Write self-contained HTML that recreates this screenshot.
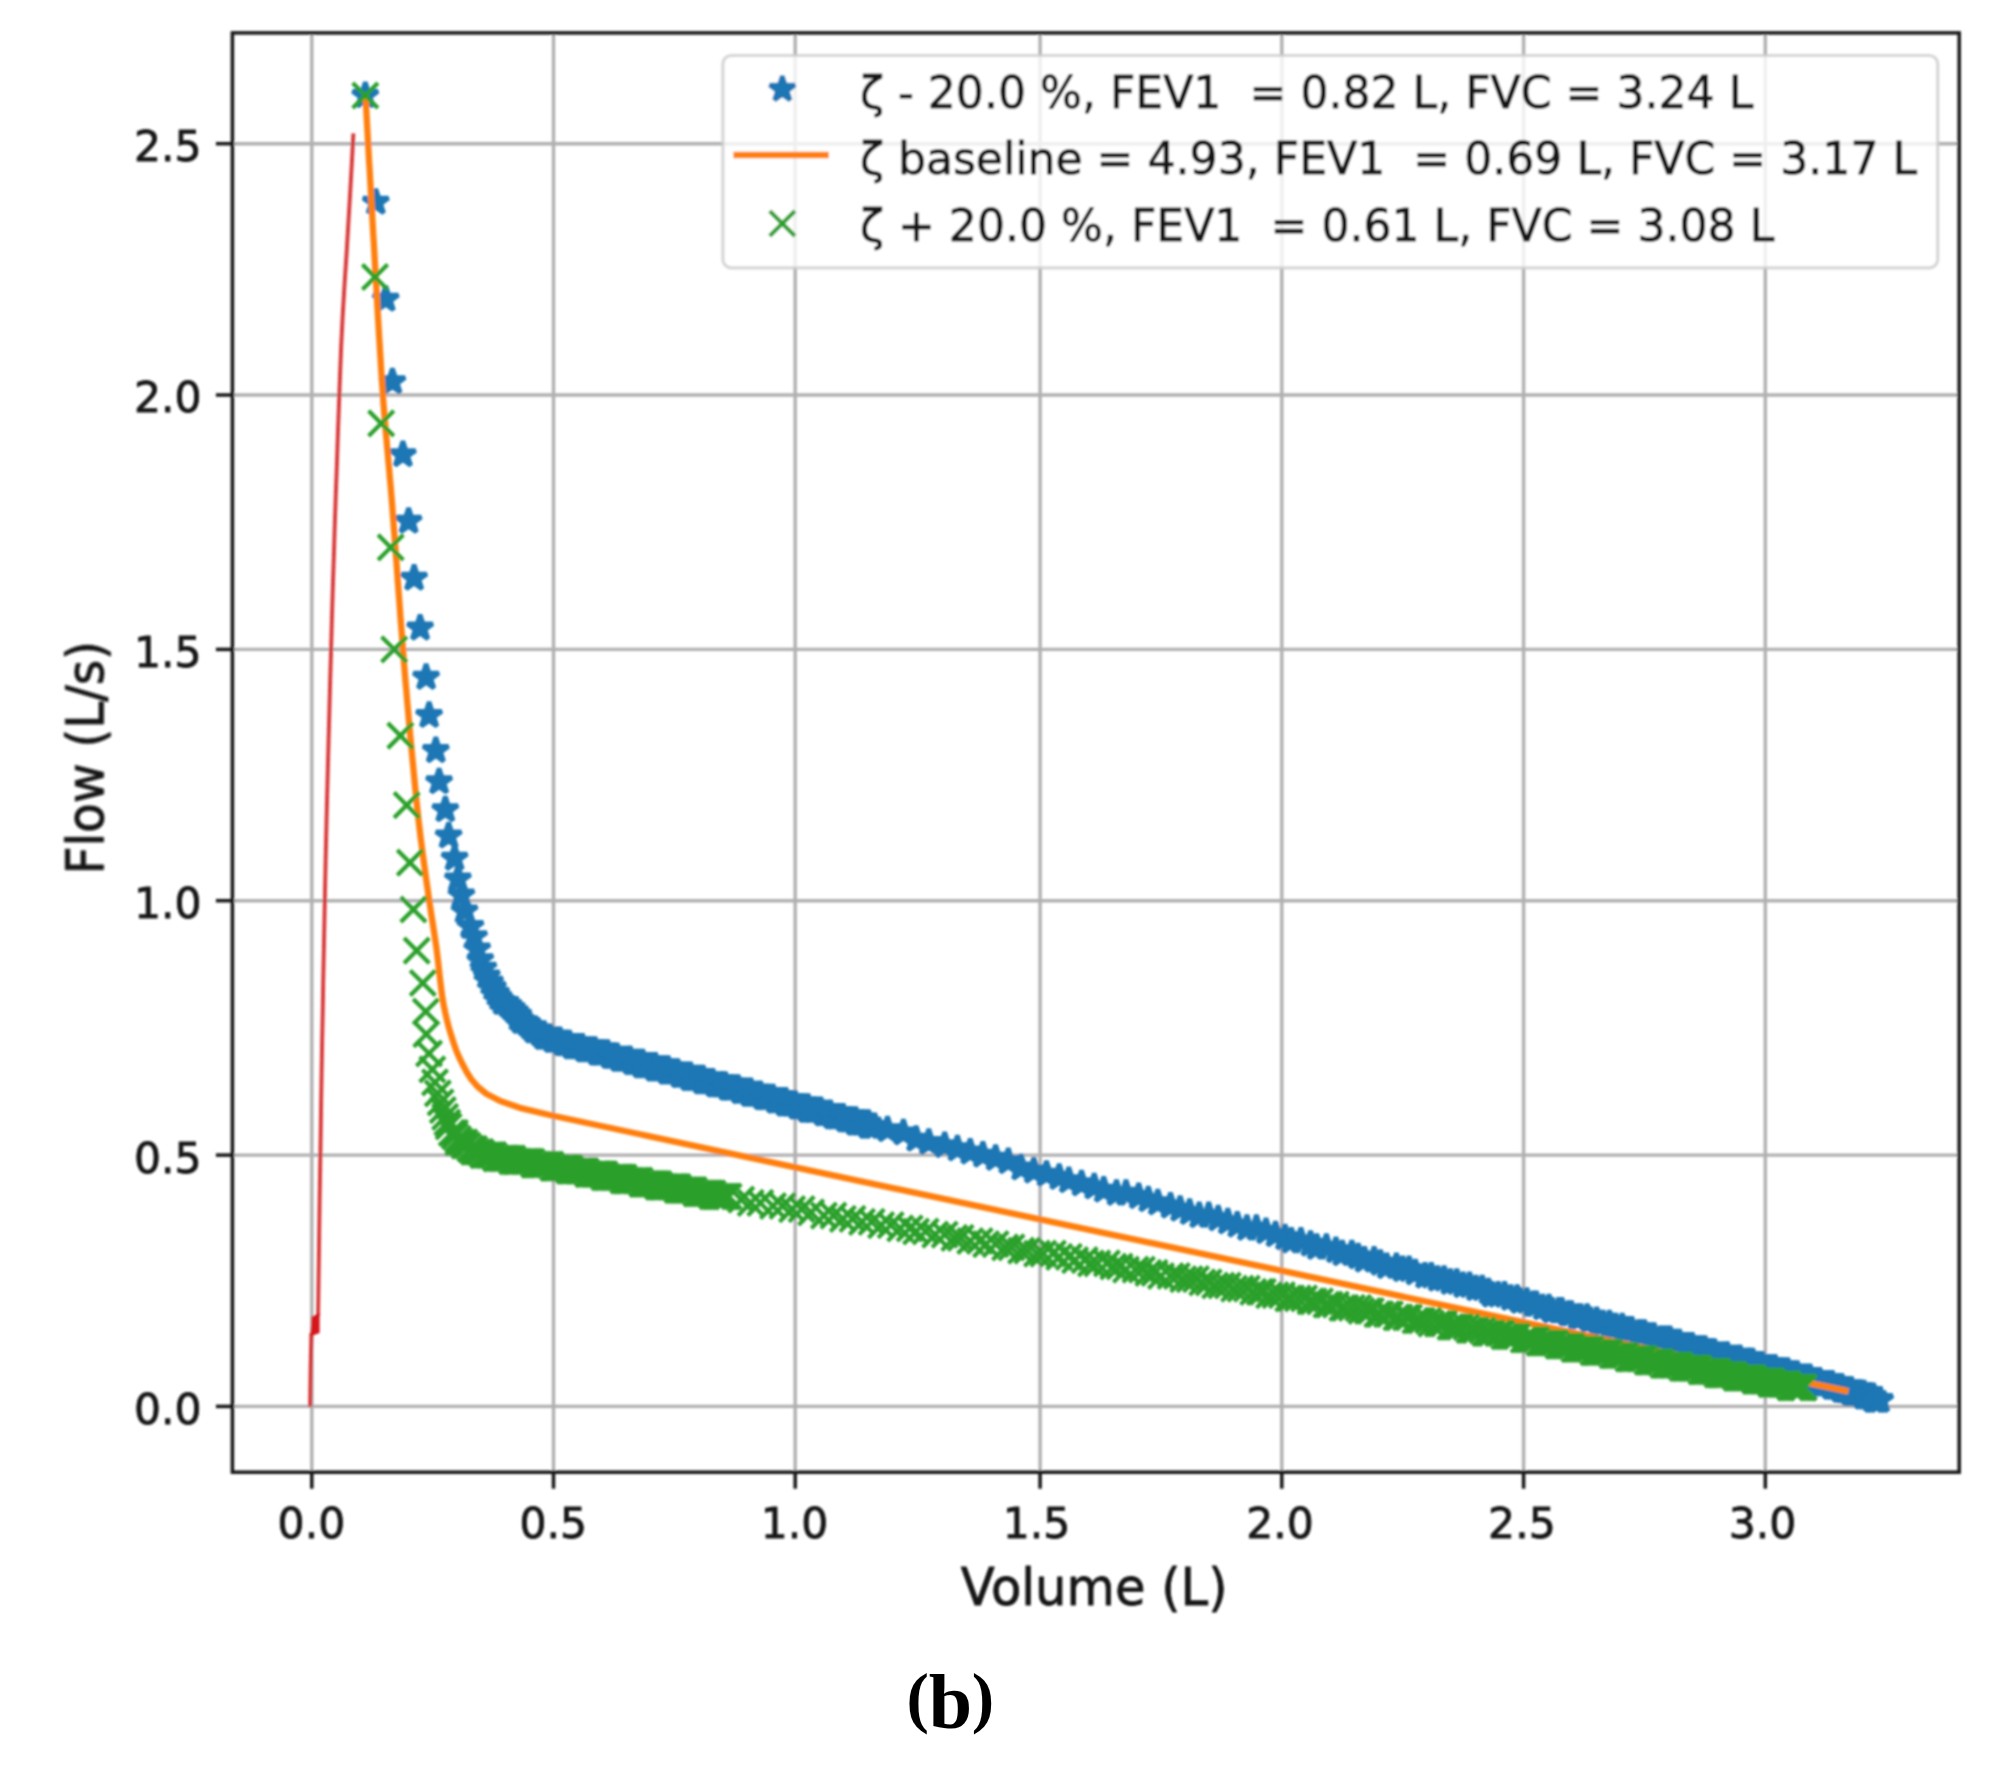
<!DOCTYPE html>
<html lang="en"><head><meta charset="utf-8"><title>Flow-volume curve (b)</title>
<style>html,body{margin:0;padding:0;background:#fff}body{width:2004px;height:1779px;overflow:hidden}svg{display:block}
text{font-family:"DejaVu Sans","Liberation Sans",sans-serif;fill:#161616;stroke:#161616;stroke-width:0.85px;stroke-linejoin:round}.tk{font-size:42.5px}.lb{font-size:52px}.lg{font-size:44.1px;white-space:pre}
.cap text{stroke:none;font-family:"Liberation Serif","DejaVu Serif",serif;font-weight:bold;font-size:74px;fill:#000}
</style></head><body>
<svg width="2004" height="1779" viewBox="0 0 2004 1779">
<defs><filter id="soft" x="-2%" y="-2%" width="104%" height="104%"><feGaussianBlur stdDeviation="1.3"/></filter>
<path id="s" d="M0.00 -13.30 L2.99 -4.11 L12.65 -4.11 L4.83 1.57 L7.82 10.76 L0.00 5.08 L-7.82 10.76 L-4.83 1.57 L-12.65 -4.11 L-2.99 -4.11Z" fill="#1f77b4" stroke="#1f77b4" stroke-width="4.7" stroke-linejoin="bevel"/>
<path id="x" d="M-12.6 -12.6 L12.6 12.6 M-12.6 12.6 L12.6 -12.6" fill="none" stroke="#2ca02c" stroke-width="4.2"/>
<clipPath id="ax"><rect x="232.4" y="32.9" width="1726.8" height="1439.3"/></clipPath></defs>
<rect width="2004" height="1779" fill="#fff"/>
<g filter="url(#soft)">
<g stroke="#b0b0b0" stroke-width="3.4" fill="none">
<line x1="311.8" y1="32.9" x2="311.8" y2="1472.2"/>
<line x1="553.5" y1="32.9" x2="553.5" y2="1472.2"/>
<line x1="795.2" y1="32.9" x2="795.2" y2="1472.2"/>
<line x1="1040.1" y1="32.9" x2="1040.1" y2="1472.2"/>
<line x1="1281.8" y1="32.9" x2="1281.8" y2="1472.2"/>
<line x1="1523.6" y1="32.9" x2="1523.6" y2="1472.2"/>
<line x1="1765.3" y1="32.9" x2="1765.3" y2="1472.2"/>
<line x1="232.4" y1="1406.4" x2="1959.2" y2="1406.4"/>
<line x1="232.4" y1="1155.1" x2="1959.2" y2="1155.1"/>
<line x1="232.4" y1="900.7" x2="1959.2" y2="900.7"/>
<line x1="232.4" y1="649.4" x2="1959.2" y2="649.4"/>
<line x1="232.4" y1="395.0" x2="1959.2" y2="395.0"/>
<line x1="232.4" y1="143.7" x2="1959.2" y2="143.7"/>
</g>
<g clip-path="url(#ax)">
<polyline points="353.4,133.4 351.8,163.7 350.1,194 348.3,224.4 346.5,254.7 344.5,285 342.7,315.3 341.2,345.7 340,376 338.9,406.3 337.8,436.6 336.8,467 335.7,497.3 334.7,527.6 333.8,557.9 332.8,588.2 331.9,618.6 331.1,648.9 330.2,679.2 329.4,709.5 328.6,739.9 327.8,770.2 327,800.5 326.3,830.8 325.6,861.2 325,891.5 324.4,921.8 323.8,952.1 323.2,982.4 322.7,1012.8 322.1,1043.1 321.6,1073.4 321.1,1103.7 320.7,1134.1 320.2,1164.4 319.7,1194.7 319.3,1225 318.9,1255.4 318.5,1285.7 318.1,1316" fill="none" stroke="#d62728" stroke-width="4" stroke-opacity="0.9" stroke-linejoin="round"/>
<polyline points="311.4,1333 310.6,1370 310.1,1406.7" fill="none" stroke="#d62728" stroke-width="4" stroke-opacity="0.9" stroke-linejoin="round"/>
<path d="M310.3 1336.5 L311.5 1316.6 L319.6 1313.2 L319.6 1333 Z" fill="#d7191c"/>
<g id="blue">
<use href="#s" x="365.3" y="95.5"/><use href="#s" x="375.8" y="202.2"/><use href="#s" x="385.7" y="299.2"/><use href="#s" x="392.4" y="381.7"/><use href="#s" x="402.9" y="454.6"/><use href="#s" x="408.6" y="521.2"/><use href="#s" x="414.1" y="578.1"/><use href="#s" x="420.1" y="628"/><use href="#s" x="426.1" y="677.3"/><use href="#s" x="429.1" y="715.4"/><use href="#s" x="435.8" y="750.5"/><use href="#s" x="439.1" y="781.7"/><use href="#s" x="445.3" y="809.7"/><use href="#s" x="448.6" y="835.9"/><use href="#s" x="454.6" y="858.3"/><use href="#s" x="457.9" y="879"/><use href="#s" x="461.4" y="895"/><use href="#s" x="464.5" y="911"/><use href="#s" x="470.5" y="926.5"/><use href="#s" x="474.1" y="936.6"/><use href="#s" x="477.2" y="949"/><use href="#s" x="480.3" y="959.7"/><use href="#s" x="483.4" y="968.1"/><use href="#s" x="486.8" y="976"/><use href="#s" x="490.1" y="982.1"/><use href="#s" x="493" y="987.8"/><use href="#s" x="496.3" y="993.4"/><use href="#s" x="499.1" y="997.9"/><use href="#s" x="502.6" y="1002.5"/><use href="#s" x="505.8" y="1002.5"/><use href="#s" x="509" y="1005.7"/><use href="#s" x="512.2" y="1008.8"/><use href="#s" x="515.4" y="1012"/><use href="#s" x="518.5" y="1015.2"/><use href="#s" x="518.5" y="1018.4"/><use href="#s" x="521.7" y="1021.6"/><use href="#s" x="524.9" y="1021.6"/><use href="#s" x="528.1" y="1024.7"/><use href="#s" x="531.3" y="1027.9"/><use href="#s" x="534.4" y="1031.1"/><use href="#s" x="537.6" y="1031.1"/><use href="#s" x="540.8" y="1034.3"/><use href="#s" x="544" y="1034.3"/><use href="#s" x="544" y="1037.5"/><use href="#s" x="547.2" y="1037.5"/><use href="#s" x="550.3" y="1037.5"/><use href="#s" x="553.5" y="1040.6"/><use href="#s" x="556.7" y="1040.6"/><use href="#s" x="559.9" y="1040.6"/><use href="#s" x="563.1" y="1043.8"/><use href="#s" x="566.2" y="1043.8"/><use href="#s" x="566.2" y="1043.8"/><use href="#s" x="569.4" y="1043.8"/><use href="#s" x="572.6" y="1047"/><use href="#s" x="575.8" y="1047"/><use href="#s" x="579" y="1047"/><use href="#s" x="582.1" y="1047"/><use href="#s" x="582.1" y="1047"/><use href="#s" x="585.3" y="1050.2"/><use href="#s" x="588.5" y="1050.2"/><use href="#s" x="591.7" y="1050.2"/><use href="#s" x="594.9" y="1050.2"/><use href="#s" x="598" y="1053.4"/><use href="#s" x="601.2" y="1053.4"/><use href="#s" x="601.2" y="1053.4"/><use href="#s" x="604.4" y="1053.4"/><use href="#s" x="607.6" y="1053.4"/><use href="#s" x="610.8" y="1056.5"/><use href="#s" x="613.9" y="1056.5"/><use href="#s" x="613.9" y="1056.5"/><use href="#s" x="617.1" y="1056.5"/><use href="#s" x="620.3" y="1059.7"/><use href="#s" x="623.5" y="1059.7"/><use href="#s" x="626.7" y="1059.7"/><use href="#s" x="629.9" y="1059.7"/><use href="#s" x="629.9" y="1059.7"/><use href="#s" x="633" y="1062.9"/><use href="#s" x="636.2" y="1062.9"/><use href="#s" x="639.4" y="1062.9"/><use href="#s" x="642.6" y="1062.9"/><use href="#s" x="642.6" y="1066.1"/><use href="#s" x="645.8" y="1066.1"/><use href="#s" x="648.9" y="1066.1"/><use href="#s" x="652.1" y="1066.1"/><use href="#s" x="655.3" y="1066.1"/><use href="#s" x="655.3" y="1069.3"/><use href="#s" x="658.5" y="1069.3"/><use href="#s" x="661.7" y="1069.3"/><use href="#s" x="664.8" y="1069.3"/><use href="#s" x="668" y="1069.3"/><use href="#s" x="668" y="1072.4"/><use href="#s" x="671.2" y="1072.4"/><use href="#s" x="674.4" y="1072.4"/><use href="#s" x="677.6" y="1072.4"/><use href="#s" x="680.7" y="1075.6"/><use href="#s" x="680.7" y="1075.6"/><use href="#s" x="683.9" y="1075.6"/><use href="#s" x="687.1" y="1075.6"/><use href="#s" x="690.3" y="1075.6"/><use href="#s" x="690.3" y="1078.8"/><use href="#s" x="693.5" y="1078.8"/><use href="#s" x="696.6" y="1078.8"/><use href="#s" x="699.8" y="1078.8"/><use href="#s" x="703" y="1078.8"/><use href="#s" x="703" y="1082"/><use href="#s" x="706.2" y="1082"/><use href="#s" x="709.4" y="1082"/><use href="#s" x="712.5" y="1082"/><use href="#s" x="712.5" y="1082"/><use href="#s" x="715.7" y="1085.2"/><use href="#s" x="718.9" y="1085.2"/><use href="#s" x="722.1" y="1085.2"/><use href="#s" x="722.1" y="1085.2"/><use href="#s" x="725.3" y="1085.2"/><use href="#s" x="728.4" y="1088.4"/><use href="#s" x="731.6" y="1088.4"/><use href="#s" x="731.6" y="1088.4"/><use href="#s" x="734.8" y="1088.4"/><use href="#s" x="738" y="1088.4"/><use href="#s" x="741.2" y="1091.5"/><use href="#s" x="741.2" y="1091.5"/><use href="#s" x="744.3" y="1091.5"/><use href="#s" x="747.5" y="1091.5"/><use href="#s" x="750.7" y="1091.5"/><use href="#s" x="750.7" y="1094.7"/><use href="#s" x="753.9" y="1094.7"/><use href="#s" x="757.1" y="1094.7"/><use href="#s" x="760.3" y="1094.7"/><use href="#s" x="760.3" y="1094.7"/><use href="#s" x="763.4" y="1097.9"/><use href="#s" x="766.6" y="1097.9"/><use href="#s" x="766.6" y="1097.9"/><use href="#s" x="769.8" y="1097.9"/><use href="#s" x="773" y="1097.9"/><use href="#s" x="776.2" y="1101.1"/><use href="#s" x="776.2" y="1101.1"/><use href="#s" x="779.3" y="1101.1"/><use href="#s" x="782.5" y="1101.1"/><use href="#s" x="785.7" y="1101.1"/><use href="#s" x="785.7" y="1104.3"/><use href="#s" x="788.9" y="1104.3"/><use href="#s" x="792.1" y="1104.3"/><use href="#s" x="792.1" y="1104.3"/><use href="#s" x="795.2" y="1104.3"/><use href="#s" x="798.4" y="1107.4"/><use href="#s" x="801.6" y="1107.4"/><use href="#s" x="801.6" y="1107.4"/><use href="#s" x="804.8" y="1107.4"/><use href="#s" x="808" y="1107.4"/><use href="#s" x="808" y="1110.6"/><use href="#s" x="811.1" y="1110.6"/><use href="#s" x="814.3" y="1110.6"/><use href="#s" x="814.3" y="1110.6"/><use href="#s" x="817.5" y="1110.6"/><use href="#s" x="820.7" y="1110.6"/><use href="#s" x="823.9" y="1113.8"/><use href="#s" x="823.9" y="1113.8"/><use href="#s" x="827" y="1113.8"/><use href="#s" x="830.2" y="1113.8"/><use href="#s" x="830.2" y="1113.8"/><use href="#s" x="833.4" y="1117"/><use href="#s" x="836.6" y="1117"/><use href="#s" x="836.6" y="1117"/><use href="#s" x="839.8" y="1117"/><use href="#s" x="842.9" y="1117"/><use href="#s" x="842.9" y="1117"/><use href="#s" x="846.1" y="1120.2"/><use href="#s" x="849.3" y="1120.2"/><use href="#s" x="849.3" y="1120.2"/><use href="#s" x="852.5" y="1120.2"/><use href="#s" x="855.7" y="1120.2"/><use href="#s" x="855.7" y="1123.3"/><use href="#s" x="858.8" y="1123.3"/><use href="#s" x="862" y="1123.3"/><use href="#s" x="862" y="1123.3"/><use href="#s" x="865.2" y="1123.3"/><use href="#s" x="868.4" y="1123.3"/><use href="#s" x="868.4" y="1126.5"/><use href="#s" x="871.6" y="1126.5"/><use href="#s" x="874.7" y="1126.5"/><use href="#s" x="887.5" y="1129.7"/><use href="#s" x="903.4" y="1132.9"/><use href="#s" x="916.1" y="1139.2"/><use href="#s" x="928.8" y="1142.4"/><use href="#s" x="944.7" y="1145.6"/><use href="#s" x="957.4" y="1148.8"/><use href="#s" x="970.2" y="1152"/><use href="#s" x="982.9" y="1155.1"/><use href="#s" x="995.6" y="1158.3"/><use href="#s" x="1008.3" y="1161.5"/><use href="#s" x="1021.1" y="1167.9"/><use href="#s" x="1033.8" y="1171"/><use href="#s" x="1046.5" y="1174.2"/><use href="#s" x="1059.2" y="1177.4"/><use href="#s" x="1068.8" y="1180.6"/><use href="#s" x="1081.5" y="1183.8"/><use href="#s" x="1094.2" y="1186.9"/><use href="#s" x="1103.7" y="1190.1"/><use href="#s" x="1116.5" y="1193.3"/><use href="#s" x="1126" y="1193.3"/><use href="#s" x="1138.7" y="1196.5"/><use href="#s" x="1148.3" y="1199.7"/><use href="#s" x="1157.8" y="1202.8"/><use href="#s" x="1170.5" y="1206"/><use href="#s" x="1180.1" y="1209.2"/><use href="#s" x="1189.6" y="1212.4"/><use href="#s" x="1199.2" y="1215.6"/><use href="#s" x="1208.7" y="1215.6"/><use href="#s" x="1218.2" y="1218.8"/><use href="#s" x="1227.8" y="1221.9"/><use href="#s" x="1237.3" y="1225.1"/><use href="#s" x="1246.9" y="1228.3"/><use href="#s" x="1256.4" y="1228.3"/><use href="#s" x="1266" y="1231.5"/><use href="#s" x="1275.5" y="1234.7"/><use href="#s" x="1285" y="1237.8"/><use href="#s" x="1291.4" y="1241"/><use href="#s" x="1300.9" y="1241"/><use href="#s" x="1310.5" y="1244.2"/><use href="#s" x="1316.8" y="1247.4"/><use href="#s" x="1326.4" y="1247.4"/><use href="#s" x="1335.9" y="1250.6"/><use href="#s" x="1342.3" y="1253.7"/><use href="#s" x="1351.8" y="1253.7"/><use href="#s" x="1358.2" y="1256.9"/><use href="#s" x="1364.5" y="1260.1"/><use href="#s" x="1374.1" y="1260.1"/><use href="#s" x="1380.4" y="1263.3"/><use href="#s" x="1386.8" y="1266.5"/><use href="#s" x="1396.4" y="1266.5"/><use href="#s" x="1402.7" y="1269.6"/><use href="#s" x="1409.1" y="1269.6"/><use href="#s" x="1415.4" y="1272.8"/><use href="#s" x="1425" y="1276"/><use href="#s" x="1431.3" y="1276"/><use href="#s" x="1437.7" y="1279.2"/><use href="#s" x="1444.1" y="1279.2"/><use href="#s" x="1450.4" y="1282.4"/><use href="#s" x="1456.8" y="1282.4"/><use href="#s" x="1463.1" y="1285.5"/><use href="#s" x="1469.5" y="1285.5"/><use href="#s" x="1475.9" y="1288.7"/><use href="#s" x="1482.2" y="1288.7"/><use href="#s" x="1488.6" y="1291.9"/><use href="#s" x="1491.8" y="1295.1"/><use href="#s" x="1498.1" y="1295.1"/><use href="#s" x="1504.5" y="1295.1"/><use href="#s" x="1510.8" y="1298.3"/><use href="#s" x="1517.2" y="1298.3"/><use href="#s" x="1520.4" y="1301.4"/><use href="#s" x="1526.8" y="1301.4"/><use href="#s" x="1533.1" y="1304.6"/><use href="#s" x="1536.3" y="1304.6"/><use href="#s" x="1542.7" y="1307.8"/><use href="#s" x="1549" y="1307.8"/><use href="#s" x="1552.2" y="1311"/><use href="#s" x="1558.6" y="1311"/><use href="#s" x="1561.7" y="1311"/><use href="#s" x="1568.1" y="1314.2"/><use href="#s" x="1571.3" y="1314.2"/><use href="#s" x="1577.6" y="1317.3"/><use href="#s" x="1580.8" y="1317.3"/><use href="#s" x="1587.2" y="1317.3"/><use href="#s" x="1590.4" y="1320.5"/><use href="#s" x="1596.7" y="1320.5"/><use href="#s" x="1599.9" y="1323.7"/><use href="#s" x="1603.1" y="1323.7"/><use href="#s" x="1609.4" y="1323.7"/><use href="#s" x="1612.6" y="1326.9"/><use href="#s" x="1615.8" y="1326.9"/><use href="#s" x="1622.2" y="1326.9"/><use href="#s" x="1625.3" y="1330.1"/><use href="#s" x="1628.5" y="1330.1"/><use href="#s" x="1631.7" y="1330.1"/><use href="#s" x="1638.1" y="1333.2"/><use href="#s" x="1641.2" y="1333.2"/><use href="#s" x="1644.4" y="1333.2"/><use href="#s" x="1647.6" y="1336.4"/><use href="#s" x="1650.8" y="1336.4"/><use href="#s" x="1654" y="1336.4"/><use href="#s" x="1660.3" y="1339.6"/><use href="#s" x="1663.5" y="1339.6"/><use href="#s" x="1666.7" y="1339.6"/><use href="#s" x="1669.9" y="1339.6"/><use href="#s" x="1673.1" y="1342.8"/><use href="#s" x="1676.2" y="1342.8"/><use href="#s" x="1679.4" y="1342.8"/><use href="#s" x="1682.6" y="1346"/><use href="#s" x="1685.8" y="1346"/><use href="#s" x="1689" y="1346"/><use href="#s" x="1692.1" y="1346"/><use href="#s" x="1695.3" y="1349.2"/><use href="#s" x="1698.5" y="1349.2"/><use href="#s" x="1701.7" y="1349.2"/><use href="#s" x="1704.9" y="1349.2"/><use href="#s" x="1708" y="1352.3"/><use href="#s" x="1711.2" y="1352.3"/><use href="#s" x="1711.2" y="1352.3"/><use href="#s" x="1714.4" y="1352.3"/><use href="#s" x="1717.6" y="1355.5"/><use href="#s" x="1720.8" y="1355.5"/><use href="#s" x="1723.9" y="1355.5"/><use href="#s" x="1727.1" y="1355.5"/><use href="#s" x="1727.1" y="1355.5"/><use href="#s" x="1730.3" y="1358.7"/><use href="#s" x="1733.5" y="1358.7"/><use href="#s" x="1736.7" y="1358.7"/><use href="#s" x="1739.8" y="1358.7"/><use href="#s" x="1739.8" y="1358.7"/><use href="#s" x="1743" y="1361.9"/><use href="#s" x="1746.2" y="1361.9"/><use href="#s" x="1749.4" y="1361.9"/><use href="#s" x="1749.4" y="1361.9"/><use href="#s" x="1752.6" y="1361.9"/><use href="#s" x="1755.7" y="1365.1"/><use href="#s" x="1755.7" y="1365.1"/><use href="#s" x="1758.9" y="1365.1"/><use href="#s" x="1762.1" y="1365.1"/><use href="#s" x="1762.1" y="1365.1"/><use href="#s" x="1765.3" y="1368.2"/><use href="#s" x="1768.5" y="1368.2"/><use href="#s" x="1768.5" y="1368.2"/><use href="#s" x="1771.6" y="1368.2"/><use href="#s" x="1774.8" y="1368.2"/><use href="#s" x="1774.8" y="1368.2"/><use href="#s" x="1778" y="1371.4"/><use href="#s" x="1778" y="1371.4"/><use href="#s" x="1781.2" y="1371.4"/><use href="#s" x="1781.2" y="1371.4"/><use href="#s" x="1784.4" y="1371.4"/><use href="#s" x="1787.6" y="1371.4"/><use href="#s" x="1787.6" y="1374.6"/><use href="#s" x="1790.7" y="1374.6"/><use href="#s" x="1790.7" y="1374.6"/><use href="#s" x="1793.9" y="1374.6"/><use href="#s" x="1793.9" y="1374.6"/><use href="#s" x="1797.1" y="1374.6"/><use href="#s" x="1797.1" y="1374.6"/><use href="#s" x="1800.3" y="1377.8"/><use href="#s" x="1800.3" y="1377.8"/><use href="#s" x="1803.5" y="1377.8"/><use href="#s" x="1803.5" y="1377.8"/><use href="#s" x="1806.6" y="1377.8"/><use href="#s" x="1806.6" y="1377.8"/><use href="#s" x="1809.8" y="1377.8"/><use href="#s" x="1809.8" y="1377.8"/><use href="#s" x="1809.8" y="1381"/><use href="#s" x="1813" y="1381"/><use href="#s" x="1813" y="1381"/><use href="#s" x="1816.2" y="1381"/><use href="#s" x="1816.2" y="1381"/><use href="#s" x="1819.4" y="1381"/><use href="#s" x="1819.4" y="1381"/><use href="#s" x="1819.4" y="1381"/><use href="#s" x="1822.5" y="1384.1"/><use href="#s" x="1822.5" y="1384.1"/><use href="#s" x="1822.5" y="1384.1"/><use href="#s" x="1825.7" y="1384.1"/><use href="#s" x="1825.7" y="1384.1"/><use href="#s" x="1828.9" y="1384.1"/><use href="#s" x="1828.9" y="1384.1"/><use href="#s" x="1828.9" y="1384.1"/><use href="#s" x="1832.1" y="1384.1"/><use href="#s" x="1832.1" y="1387.3"/><use href="#s" x="1832.1" y="1387.3"/><use href="#s" x="1835.3" y="1387.3"/><use href="#s" x="1835.3" y="1387.3"/><use href="#s" x="1835.3" y="1387.3"/><use href="#s" x="1838.4" y="1387.3"/><use href="#s" x="1838.4" y="1387.3"/><use href="#s" x="1838.4" y="1387.3"/><use href="#s" x="1838.4" y="1387.3"/><use href="#s" x="1841.6" y="1387.3"/><use href="#s" x="1841.6" y="1387.3"/><use href="#s" x="1841.6" y="1390.5"/><use href="#s" x="1844.8" y="1390.5"/><use href="#s" x="1844.8" y="1390.5"/><use href="#s" x="1844.8" y="1390.5"/><use href="#s" x="1844.8" y="1390.5"/><use href="#s" x="1848" y="1390.5"/><use href="#s" x="1848" y="1390.5"/><use href="#s" x="1848" y="1390.5"/><use href="#s" x="1848" y="1390.5"/><use href="#s" x="1851.2" y="1390.5"/><use href="#s" x="1851.2" y="1390.5"/><use href="#s" x="1851.2" y="1390.5"/><use href="#s" x="1851.2" y="1393.7"/><use href="#s" x="1854.3" y="1393.7"/><use href="#s" x="1854.3" y="1393.7"/><use href="#s" x="1854.3" y="1393.7"/><use href="#s" x="1854.3" y="1393.7"/><use href="#s" x="1857.5" y="1393.7"/><use href="#s" x="1857.5" y="1393.7"/><use href="#s" x="1857.5" y="1393.7"/><use href="#s" x="1857.5" y="1393.7"/><use href="#s" x="1857.5" y="1393.7"/><use href="#s" x="1860.7" y="1393.7"/><use href="#s" x="1860.7" y="1393.7"/><use href="#s" x="1860.7" y="1393.7"/><use href="#s" x="1860.7" y="1393.7"/><use href="#s" x="1860.7" y="1393.7"/><use href="#s" x="1863.9" y="1393.7"/><use href="#s" x="1863.9" y="1396.9"/><use href="#s" x="1863.9" y="1396.9"/><use href="#s" x="1863.9" y="1396.9"/><use href="#s" x="1863.9" y="1396.9"/><use href="#s" x="1863.9" y="1396.9"/><use href="#s" x="1867.1" y="1396.9"/><use href="#s" x="1867.1" y="1396.9"/><use href="#s" x="1867.1" y="1396.9"/><use href="#s" x="1867.1" y="1396.9"/><use href="#s" x="1867.1" y="1396.9"/><use href="#s" x="1867.1" y="1396.9"/><use href="#s" x="1870.2" y="1396.9"/><use href="#s" x="1870.2" y="1396.9"/><use href="#s" x="1870.2" y="1396.9"/><use href="#s" x="1870.2" y="1396.9"/><use href="#s" x="1870.2" y="1396.9"/><use href="#s" x="1870.2" y="1396.9"/><use href="#s" x="1870.2" y="1396.9"/><use href="#s" x="1873.4" y="1396.9"/><use href="#s" x="1873.4" y="1396.9"/><use href="#s" x="1873.4" y="1400"/><use href="#s" x="1873.4" y="1400"/><use href="#s" x="1873.4" y="1400"/><use href="#s" x="1873.4" y="1400"/><use href="#s" x="1873.4" y="1400"/><use href="#s" x="1873.4" y="1400"/><use href="#s" x="1876.6" y="1400"/><use href="#s" x="1876.6" y="1400"/><use href="#s" x="1876.6" y="1400"/><use href="#s" x="1876.6" y="1400"/><use href="#s" x="1876.6" y="1400"/><use href="#s" x="1876.6" y="1400"/><use href="#s" x="1876.6" y="1400"/><use href="#s" x="1876.6" y="1400"/><use href="#s" x="1876.6" y="1400"/><use href="#s" x="1879.8" y="1400"/><use href="#s" x="1879.8" y="1400"/><use href="#s" x="1879.8" y="1400"/><use href="#s" x="1879.8" y="1400"/><use href="#s" x="1879.8" y="1400"/>
</g>
<polyline points="365.5,95.5 365.9,102.8 366.3,110.2 366.7,117.5 367.1,124.9 367.5,132.2 367.9,139.5 368.3,146.9 368.7,154.2 369.1,161.6 369.6,168.9 370,176.2 370.4,183.6 370.8,190.9 371.2,198.3 371.6,205.6 372.1,212.9 372.5,220.3 372.9,227.6 373.3,235 373.8,242.3 374.2,249.6 374.6,257 375,264.3 375.4,271.6 375.9,279 376.3,286.3 376.7,293.7 377.1,301 377.5,308.3 377.9,315.7 378.4,323 378.8,330.4 379.2,337.7 379.7,345 380.1,352.4 380.6,359.7 381,367.1 381.5,374.4 382,381.7 382.5,389.1 383,396.4 383.5,403.8 384.1,411.1 384.7,418.4 385.3,425.8 385.9,433.1 386.6,440.5 387.2,447.8 387.9,455.1 388.5,462.5 389.2,469.8 389.8,477.2 390.5,484.5 391.1,491.8 391.7,499.2 392.3,506.5 392.8,513.9 393.4,521.2 393.9,528.5 394.5,535.9 395,543.2 395.6,550.6 396.1,557.9 396.7,565.2 397.2,572.6 397.7,579.9 398.3,587.3 398.8,594.6 399.4,601.9 399.9,609.3 400.4,616.6 401,623.9 401.6,631.3 402.1,638.6 402.7,646 403.3,653.3 403.8,660.6 404.4,668 405,675.3 405.6,682.7 406.3,690 406.9,697.3 407.5,704.7 408.2,712 408.8,719.4 409.5,726.7 410.1,734 410.8,741.4 411.5,748.7 412.2,756.1 412.9,763.4 413.6,770.7 414.3,778.1 415,785.4 415.7,792.8 416.4,800.1 417.2,807.4 418,814.8 418.8,822.1 419.7,829.5 420.5,836.8 421.5,844.1 422.4,851.5 423.4,858.8 424.4,866.2 425.4,873.5 426.4,880.8 427.5,888.2 428.5,895.5 429.6,902.9 430.7,910.2 431.8,917.5 433,924.9 434.1,932.2 435.2,939.6 436.3,946.9 437.2,954.2 438.1,961.6 438.9,968.9 439.7,976.2 440.6,983.6 441.5,990.9 442.5,998.3 443.8,1005.6 445.3,1012.9 447,1020.3 448.9,1027.6 451.1,1035 453.4,1042.3 455.9,1049.6 459,1057 462.6,1064.3 466.5,1071.7 471.1,1079 477.3,1086.3 486.3,1093.7 500.2,1101 521.9,1108.4 553,1115.7 1848.4,1391.4" fill="none" stroke="#ff7f0e" stroke-width="6.3" stroke-linejoin="round" stroke-linecap="butt"/>
<g id="green">
<use href="#x" x="365.3" y="95.5"/><use href="#x" x="375" y="277"/><use href="#x" x="381.2" y="423.4"/><use href="#x" x="390.7" y="547.4"/><use href="#x" x="394.2" y="649.3"/><use href="#x" x="400.4" y="735.6"/><use href="#x" x="406.7" y="805.2"/><use href="#x" x="409.9" y="862.6"/><use href="#x" x="413.4" y="909.5"/><use href="#x" x="416.7" y="950.7"/><use href="#x" x="422.8" y="983"/><use href="#x" x="425.8" y="1011.5"/><use href="#x" x="426.3" y="1034.2"/><use href="#x" x="429" y="1053.5"/><use href="#x" x="432.3" y="1069.4"/><use href="#x" x="435" y="1082.4"/><use href="#x" x="437.8" y="1093.3"/><use href="#x" x="440.6" y="1102.3"/><use href="#x" x="442.8" y="1110.2"/><use href="#x" x="445.1" y="1116.9"/><use href="#x" x="447.3" y="1122.5"/><use href="#x" x="448.6" y="1126.5"/><use href="#x" x="451.7" y="1132.9"/><use href="#x" x="454.9" y="1132.9"/><use href="#x" x="454.9" y="1136.1"/><use href="#x" x="458.1" y="1139.2"/><use href="#x" x="458.1" y="1142.4"/><use href="#x" x="461.3" y="1142.4"/><use href="#x" x="464.5" y="1142.4"/><use href="#x" x="464.5" y="1145.6"/><use href="#x" x="467.6" y="1145.6"/><use href="#x" x="470.8" y="1148.8"/><use href="#x" x="470.8" y="1148.8"/><use href="#x" x="474" y="1148.8"/><use href="#x" x="474" y="1152"/><use href="#x" x="477.2" y="1152"/><use href="#x" x="480.4" y="1152"/><use href="#x" x="480.4" y="1152"/><use href="#x" x="483.5" y="1155.1"/><use href="#x" x="483.5" y="1155.1"/><use href="#x" x="486.7" y="1155.1"/><use href="#x" x="489.9" y="1155.1"/><use href="#x" x="489.9" y="1155.1"/><use href="#x" x="493.1" y="1155.1"/><use href="#x" x="493.1" y="1155.1"/><use href="#x" x="496.3" y="1158.3"/><use href="#x" x="496.3" y="1158.3"/><use href="#x" x="499.4" y="1158.3"/><use href="#x" x="502.6" y="1158.3"/><use href="#x" x="502.6" y="1158.3"/><use href="#x" x="505.8" y="1158.3"/><use href="#x" x="505.8" y="1158.3"/><use href="#x" x="509" y="1158.3"/><use href="#x" x="512.2" y="1158.3"/><use href="#x" x="512.2" y="1161.5"/><use href="#x" x="515.4" y="1161.5"/><use href="#x" x="515.4" y="1161.5"/><use href="#x" x="518.5" y="1161.5"/><use href="#x" x="518.5" y="1161.5"/><use href="#x" x="521.7" y="1161.5"/><use href="#x" x="524.9" y="1161.5"/><use href="#x" x="524.9" y="1161.5"/><use href="#x" x="528.1" y="1161.5"/><use href="#x" x="528.1" y="1161.5"/><use href="#x" x="531.3" y="1161.5"/><use href="#x" x="534.4" y="1164.7"/><use href="#x" x="534.4" y="1164.7"/><use href="#x" x="537.6" y="1164.7"/><use href="#x" x="537.6" y="1164.7"/><use href="#x" x="540.8" y="1164.7"/><use href="#x" x="540.8" y="1164.7"/><use href="#x" x="544" y="1164.7"/><use href="#x" x="544" y="1164.7"/><use href="#x" x="547.2" y="1164.7"/><use href="#x" x="550.3" y="1164.7"/><use href="#x" x="550.3" y="1164.7"/><use href="#x" x="553.5" y="1167.9"/><use href="#x" x="553.5" y="1167.9"/><use href="#x" x="556.7" y="1167.9"/><use href="#x" x="556.7" y="1167.9"/><use href="#x" x="559.9" y="1167.9"/><use href="#x" x="563.1" y="1167.9"/><use href="#x" x="563.1" y="1167.9"/><use href="#x" x="566.2" y="1167.9"/><use href="#x" x="566.2" y="1167.9"/><use href="#x" x="569.4" y="1167.9"/><use href="#x" x="569.4" y="1171"/><use href="#x" x="572.6" y="1171"/><use href="#x" x="572.6" y="1171"/><use href="#x" x="575.8" y="1171"/><use href="#x" x="579" y="1171"/><use href="#x" x="579" y="1171"/><use href="#x" x="582.1" y="1171"/><use href="#x" x="582.1" y="1171"/><use href="#x" x="585.3" y="1171"/><use href="#x" x="585.3" y="1171"/><use href="#x" x="588.5" y="1174.2"/><use href="#x" x="588.5" y="1174.2"/><use href="#x" x="591.7" y="1174.2"/><use href="#x" x="594.9" y="1174.2"/><use href="#x" x="594.9" y="1174.2"/><use href="#x" x="598" y="1174.2"/><use href="#x" x="598" y="1174.2"/><use href="#x" x="601.2" y="1174.2"/><use href="#x" x="601.2" y="1174.2"/><use href="#x" x="604.4" y="1174.2"/><use href="#x" x="604.4" y="1177.4"/><use href="#x" x="607.6" y="1177.4"/><use href="#x" x="607.6" y="1177.4"/><use href="#x" x="610.8" y="1177.4"/><use href="#x" x="613.9" y="1177.4"/><use href="#x" x="613.9" y="1177.4"/><use href="#x" x="617.1" y="1177.4"/><use href="#x" x="617.1" y="1177.4"/><use href="#x" x="620.3" y="1177.4"/><use href="#x" x="620.3" y="1177.4"/><use href="#x" x="623.5" y="1177.4"/><use href="#x" x="623.5" y="1180.6"/><use href="#x" x="626.7" y="1180.6"/><use href="#x" x="626.7" y="1180.6"/><use href="#x" x="629.9" y="1180.6"/><use href="#x" x="629.9" y="1180.6"/><use href="#x" x="633" y="1180.6"/><use href="#x" x="636.2" y="1180.6"/><use href="#x" x="636.2" y="1180.6"/><use href="#x" x="639.4" y="1180.6"/><use href="#x" x="639.4" y="1180.6"/><use href="#x" x="642.6" y="1183.8"/><use href="#x" x="642.6" y="1183.8"/><use href="#x" x="645.8" y="1183.8"/><use href="#x" x="645.8" y="1183.8"/><use href="#x" x="648.9" y="1183.8"/><use href="#x" x="648.9" y="1183.8"/><use href="#x" x="652.1" y="1183.8"/><use href="#x" x="652.1" y="1183.8"/><use href="#x" x="655.3" y="1183.8"/><use href="#x" x="655.3" y="1183.8"/><use href="#x" x="658.5" y="1183.8"/><use href="#x" x="658.5" y="1186.9"/><use href="#x" x="661.7" y="1186.9"/><use href="#x" x="661.7" y="1186.9"/><use href="#x" x="664.8" y="1186.9"/><use href="#x" x="664.8" y="1186.9"/><use href="#x" x="668" y="1186.9"/><use href="#x" x="671.2" y="1186.9"/><use href="#x" x="671.2" y="1186.9"/><use href="#x" x="674.4" y="1186.9"/><use href="#x" x="674.4" y="1186.9"/><use href="#x" x="677.6" y="1186.9"/><use href="#x" x="677.6" y="1190.1"/><use href="#x" x="680.7" y="1190.1"/><use href="#x" x="680.7" y="1190.1"/><use href="#x" x="683.9" y="1190.1"/><use href="#x" x="683.9" y="1190.1"/><use href="#x" x="687.1" y="1190.1"/><use href="#x" x="687.1" y="1190.1"/><use href="#x" x="690.3" y="1190.1"/><use href="#x" x="690.3" y="1190.1"/><use href="#x" x="693.5" y="1190.1"/><use href="#x" x="693.5" y="1190.1"/><use href="#x" x="696.6" y="1193.3"/><use href="#x" x="696.6" y="1193.3"/><use href="#x" x="699.8" y="1193.3"/><use href="#x" x="699.8" y="1193.3"/><use href="#x" x="703" y="1193.3"/><use href="#x" x="703" y="1193.3"/><use href="#x" x="706.2" y="1193.3"/><use href="#x" x="706.2" y="1193.3"/><use href="#x" x="709.4" y="1193.3"/><use href="#x" x="709.4" y="1193.3"/><use href="#x" x="712.5" y="1193.3"/><use href="#x" x="712.5" y="1196.5"/><use href="#x" x="715.7" y="1196.5"/><use href="#x" x="715.7" y="1196.5"/><use href="#x" x="718.9" y="1196.5"/><use href="#x" x="718.9" y="1196.5"/><use href="#x" x="722.1" y="1196.5"/><use href="#x" x="722.1" y="1196.5"/><use href="#x" x="725.3" y="1196.5"/><use href="#x" x="725.3" y="1196.5"/><use href="#x" x="728.4" y="1196.5"/><use href="#x" x="728.4" y="1196.5"/><use href="#x" x="741.2" y="1199.7"/><use href="#x" x="750.7" y="1202.8"/><use href="#x" x="760.3" y="1202.8"/><use href="#x" x="773" y="1206"/><use href="#x" x="782.5" y="1206"/><use href="#x" x="792.1" y="1209.2"/><use href="#x" x="801.6" y="1209.2"/><use href="#x" x="811.1" y="1212.4"/><use href="#x" x="823.9" y="1215.6"/><use href="#x" x="833.4" y="1215.6"/><use href="#x" x="842.9" y="1218.8"/><use href="#x" x="852.5" y="1218.8"/><use href="#x" x="862" y="1221.9"/><use href="#x" x="871.6" y="1221.9"/><use href="#x" x="881.1" y="1225.1"/><use href="#x" x="890.7" y="1225.1"/><use href="#x" x="900.2" y="1228.3"/><use href="#x" x="909.7" y="1228.3"/><use href="#x" x="916.1" y="1231.5"/><use href="#x" x="925.6" y="1231.5"/><use href="#x" x="935.2" y="1234.7"/><use href="#x" x="944.7" y="1234.7"/><use href="#x" x="954.3" y="1237.8"/><use href="#x" x="960.6" y="1237.8"/><use href="#x" x="970.2" y="1241"/><use href="#x" x="979.7" y="1241"/><use href="#x" x="986.1" y="1244.2"/><use href="#x" x="995.6" y="1244.2"/><use href="#x" x="1005.1" y="1247.4"/><use href="#x" x="1011.5" y="1247.4"/><use href="#x" x="1021.1" y="1250.6"/><use href="#x" x="1027.4" y="1250.6"/><use href="#x" x="1037" y="1253.7"/><use href="#x" x="1043.3" y="1253.7"/><use href="#x" x="1052.9" y="1253.7"/><use href="#x" x="1059.2" y="1256.9"/><use href="#x" x="1068.8" y="1256.9"/><use href="#x" x="1075.1" y="1260.1"/><use href="#x" x="1084.7" y="1260.1"/><use href="#x" x="1091" y="1263.3"/><use href="#x" x="1097.4" y="1263.3"/><use href="#x" x="1106.9" y="1263.3"/><use href="#x" x="1113.3" y="1266.5"/><use href="#x" x="1119.6" y="1266.5"/><use href="#x" x="1126" y="1269.6"/><use href="#x" x="1135.5" y="1269.6"/><use href="#x" x="1141.9" y="1269.6"/><use href="#x" x="1148.3" y="1272.8"/><use href="#x" x="1154.6" y="1272.8"/><use href="#x" x="1161" y="1276"/><use href="#x" x="1170.5" y="1276"/><use href="#x" x="1176.9" y="1276"/><use href="#x" x="1183.3" y="1279.2"/><use href="#x" x="1189.6" y="1279.2"/><use href="#x" x="1196" y="1279.2"/><use href="#x" x="1202.3" y="1282.4"/><use href="#x" x="1208.7" y="1282.4"/><use href="#x" x="1215.1" y="1285.5"/><use href="#x" x="1221.4" y="1285.5"/><use href="#x" x="1227.8" y="1285.5"/><use href="#x" x="1234.1" y="1288.7"/><use href="#x" x="1240.5" y="1288.7"/><use href="#x" x="1246.9" y="1288.7"/><use href="#x" x="1253.2" y="1291.9"/><use href="#x" x="1259.6" y="1291.9"/><use href="#x" x="1262.8" y="1291.9"/><use href="#x" x="1269.1" y="1295.1"/><use href="#x" x="1275.5" y="1295.1"/><use href="#x" x="1281.9" y="1295.1"/><use href="#x" x="1288.2" y="1298.3"/><use href="#x" x="1291.4" y="1298.3"/><use href="#x" x="1297.8" y="1298.3"/><use href="#x" x="1304.1" y="1298.3"/><use href="#x" x="1310.5" y="1301.4"/><use href="#x" x="1313.7" y="1301.4"/><use href="#x" x="1320" y="1301.4"/><use href="#x" x="1326.4" y="1304.6"/><use href="#x" x="1329.6" y="1304.6"/><use href="#x" x="1335.9" y="1304.6"/><use href="#x" x="1342.3" y="1307.8"/><use href="#x" x="1345.5" y="1307.8"/><use href="#x" x="1351.8" y="1307.8"/><use href="#x" x="1358.2" y="1307.8"/><use href="#x" x="1361.4" y="1311"/><use href="#x" x="1367.7" y="1311"/><use href="#x" x="1370.9" y="1311"/><use href="#x" x="1377.3" y="1314.2"/><use href="#x" x="1380.4" y="1314.2"/><use href="#x" x="1386.8" y="1314.2"/><use href="#x" x="1390" y="1314.2"/><use href="#x" x="1396.4" y="1317.3"/><use href="#x" x="1399.5" y="1317.3"/><use href="#x" x="1405.9" y="1317.3"/><use href="#x" x="1409.1" y="1317.3"/><use href="#x" x="1415.4" y="1320.5"/><use href="#x" x="1418.6" y="1320.5"/><use href="#x" x="1421.8" y="1320.5"/><use href="#x" x="1428.2" y="1320.5"/><use href="#x" x="1431.3" y="1323.7"/><use href="#x" x="1437.7" y="1323.7"/><use href="#x" x="1440.9" y="1323.7"/><use href="#x" x="1444.1" y="1323.7"/><use href="#x" x="1450.4" y="1326.9"/><use href="#x" x="1453.6" y="1326.9"/><use href="#x" x="1456.8" y="1326.9"/><use href="#x" x="1460" y="1326.9"/><use href="#x" x="1466.3" y="1326.9"/><use href="#x" x="1469.5" y="1330.1"/><use href="#x" x="1472.7" y="1330.1"/><use href="#x" x="1475.9" y="1330.1"/><use href="#x" x="1482.2" y="1330.1"/><use href="#x" x="1485.4" y="1333.2"/><use href="#x" x="1488.6" y="1333.2"/><use href="#x" x="1491.8" y="1333.2"/><use href="#x" x="1498.1" y="1333.2"/><use href="#x" x="1501.3" y="1333.2"/><use href="#x" x="1504.5" y="1336.4"/><use href="#x" x="1507.7" y="1336.4"/><use href="#x" x="1510.8" y="1336.4"/><use href="#x" x="1514" y="1336.4"/><use href="#x" x="1517.2" y="1336.4"/><use href="#x" x="1523.6" y="1339.6"/><use href="#x" x="1526.8" y="1339.6"/><use href="#x" x="1529.9" y="1339.6"/><use href="#x" x="1533.1" y="1339.6"/><use href="#x" x="1536.3" y="1339.6"/><use href="#x" x="1539.5" y="1342.8"/><use href="#x" x="1542.7" y="1342.8"/><use href="#x" x="1545.8" y="1342.8"/><use href="#x" x="1549" y="1342.8"/><use href="#x" x="1552.2" y="1342.8"/><use href="#x" x="1555.4" y="1342.8"/><use href="#x" x="1558.6" y="1346"/><use href="#x" x="1561.7" y="1346"/><use href="#x" x="1564.9" y="1346"/><use href="#x" x="1568.1" y="1346"/><use href="#x" x="1571.3" y="1346"/><use href="#x" x="1574.5" y="1349.2"/><use href="#x" x="1577.6" y="1349.2"/><use href="#x" x="1580.8" y="1349.2"/><use href="#x" x="1584" y="1349.2"/><use href="#x" x="1587.2" y="1349.2"/><use href="#x" x="1590.4" y="1349.2"/><use href="#x" x="1593.5" y="1352.3"/><use href="#x" x="1596.7" y="1352.3"/><use href="#x" x="1596.7" y="1352.3"/><use href="#x" x="1599.9" y="1352.3"/><use href="#x" x="1603.1" y="1352.3"/><use href="#x" x="1606.3" y="1352.3"/><use href="#x" x="1609.4" y="1352.3"/><use href="#x" x="1612.6" y="1355.5"/><use href="#x" x="1615.8" y="1355.5"/><use href="#x" x="1615.8" y="1355.5"/><use href="#x" x="1619" y="1355.5"/><use href="#x" x="1622.2" y="1355.5"/><use href="#x" x="1625.3" y="1355.5"/><use href="#x" x="1628.5" y="1358.7"/><use href="#x" x="1631.7" y="1358.7"/><use href="#x" x="1631.7" y="1358.7"/><use href="#x" x="1634.9" y="1358.7"/><use href="#x" x="1638.1" y="1358.7"/><use href="#x" x="1641.2" y="1358.7"/><use href="#x" x="1641.2" y="1358.7"/><use href="#x" x="1644.4" y="1358.7"/><use href="#x" x="1647.6" y="1361.9"/><use href="#x" x="1650.8" y="1361.9"/><use href="#x" x="1650.8" y="1361.9"/><use href="#x" x="1654" y="1361.9"/><use href="#x" x="1657.2" y="1361.9"/><use href="#x" x="1660.3" y="1361.9"/><use href="#x" x="1660.3" y="1361.9"/><use href="#x" x="1663.5" y="1365.1"/><use href="#x" x="1666.7" y="1365.1"/><use href="#x" x="1666.7" y="1365.1"/><use href="#x" x="1669.9" y="1365.1"/><use href="#x" x="1673.1" y="1365.1"/><use href="#x" x="1673.1" y="1365.1"/><use href="#x" x="1676.2" y="1365.1"/><use href="#x" x="1679.4" y="1365.1"/><use href="#x" x="1679.4" y="1365.1"/><use href="#x" x="1682.6" y="1368.2"/><use href="#x" x="1685.8" y="1368.2"/><use href="#x" x="1685.8" y="1368.2"/><use href="#x" x="1689" y="1368.2"/><use href="#x" x="1692.1" y="1368.2"/><use href="#x" x="1692.1" y="1368.2"/><use href="#x" x="1695.3" y="1368.2"/><use href="#x" x="1695.3" y="1368.2"/><use href="#x" x="1698.5" y="1368.2"/><use href="#x" x="1701.7" y="1371.4"/><use href="#x" x="1701.7" y="1371.4"/><use href="#x" x="1704.9" y="1371.4"/><use href="#x" x="1704.9" y="1371.4"/><use href="#x" x="1708" y="1371.4"/><use href="#x" x="1711.2" y="1371.4"/><use href="#x" x="1711.2" y="1371.4"/><use href="#x" x="1714.4" y="1371.4"/><use href="#x" x="1714.4" y="1371.4"/><use href="#x" x="1717.6" y="1371.4"/><use href="#x" x="1717.6" y="1374.6"/><use href="#x" x="1720.8" y="1374.6"/><use href="#x" x="1720.8" y="1374.6"/><use href="#x" x="1723.9" y="1374.6"/><use href="#x" x="1723.9" y="1374.6"/><use href="#x" x="1727.1" y="1374.6"/><use href="#x" x="1727.1" y="1374.6"/><use href="#x" x="1730.3" y="1374.6"/><use href="#x" x="1733.5" y="1374.6"/><use href="#x" x="1733.5" y="1374.6"/><use href="#x" x="1733.5" y="1374.6"/><use href="#x" x="1736.7" y="1377.8"/><use href="#x" x="1736.7" y="1377.8"/><use href="#x" x="1739.8" y="1377.8"/><use href="#x" x="1739.8" y="1377.8"/><use href="#x" x="1743" y="1377.8"/><use href="#x" x="1743" y="1377.8"/><use href="#x" x="1746.2" y="1377.8"/><use href="#x" x="1746.2" y="1377.8"/><use href="#x" x="1749.4" y="1377.8"/><use href="#x" x="1749.4" y="1377.8"/><use href="#x" x="1752.6" y="1377.8"/><use href="#x" x="1752.6" y="1377.8"/><use href="#x" x="1755.7" y="1381"/><use href="#x" x="1755.7" y="1381"/><use href="#x" x="1755.7" y="1381"/><use href="#x" x="1758.9" y="1381"/><use href="#x" x="1758.9" y="1381"/><use href="#x" x="1762.1" y="1381"/><use href="#x" x="1762.1" y="1381"/><use href="#x" x="1765.3" y="1381"/><use href="#x" x="1765.3" y="1381"/><use href="#x" x="1765.3" y="1381"/><use href="#x" x="1768.5" y="1381"/><use href="#x" x="1768.5" y="1381"/><use href="#x" x="1771.6" y="1381"/><use href="#x" x="1771.6" y="1384.1"/><use href="#x" x="1771.6" y="1384.1"/><use href="#x" x="1774.8" y="1384.1"/><use href="#x" x="1774.8" y="1384.1"/><use href="#x" x="1774.8" y="1384.1"/><use href="#x" x="1778" y="1384.1"/><use href="#x" x="1778" y="1384.1"/><use href="#x" x="1781.2" y="1384.1"/><use href="#x" x="1781.2" y="1384.1"/><use href="#x" x="1781.2" y="1384.1"/><use href="#x" x="1784.4" y="1384.1"/><use href="#x" x="1784.4" y="1384.1"/><use href="#x" x="1784.4" y="1384.1"/><use href="#x" x="1787.6" y="1384.1"/><use href="#x" x="1787.6" y="1384.1"/><use href="#x" x="1787.6" y="1384.1"/><use href="#x" x="1790.7" y="1387.3"/><use href="#x" x="1790.7" y="1387.3"/><use href="#x" x="1790.7" y="1387.3"/><use href="#x" x="1793.9" y="1387.3"/><use href="#x" x="1793.9" y="1387.3"/><use href="#x" x="1793.9" y="1387.3"/><use href="#x" x="1797.1" y="1387.3"/><use href="#x" x="1797.1" y="1387.3"/><use href="#x" x="1797.1" y="1387.3"/><use href="#x" x="1800.3" y="1387.3"/><use href="#x" x="1800.3" y="1387.3"/><use href="#x" x="1800.3" y="1387.3"/><use href="#x" x="1803.5" y="1387.3"/><use href="#x" x="1803.5" y="1387.3"/><use href="#x" x="1803.5" y="1387.3"/><use href="#x" x="1803.5" y="1387.3"/>
</g>
</g>
<g stroke="#181818" stroke-width="3.5" fill="none">
<line x1="311.8" y1="1472.2" x2="311.8" y2="1488.7"/>
<line x1="553.5" y1="1472.2" x2="553.5" y2="1488.7"/>
<line x1="795.2" y1="1472.2" x2="795.2" y2="1488.7"/>
<line x1="1040.1" y1="1472.2" x2="1040.1" y2="1488.7"/>
<line x1="1281.8" y1="1472.2" x2="1281.8" y2="1488.7"/>
<line x1="1523.6" y1="1472.2" x2="1523.6" y2="1488.7"/>
<line x1="1765.3" y1="1472.2" x2="1765.3" y2="1488.7"/>
<line x1="215.9" y1="1406.4" x2="232.4" y2="1406.4"/>
<line x1="215.9" y1="1155.1" x2="232.4" y2="1155.1"/>
<line x1="215.9" y1="900.7" x2="232.4" y2="900.7"/>
<line x1="215.9" y1="649.4" x2="232.4" y2="649.4"/>
<line x1="215.9" y1="395.0" x2="232.4" y2="395.0"/>
<line x1="215.9" y1="143.7" x2="232.4" y2="143.7"/>
<rect x="232.4" y="32.9" width="1726.8" height="1439.3" stroke-linejoin="miter"/>
</g>
<text class="tk" x="311.4" y="1538.2" text-anchor="middle">0.0</text>
<text class="tk" x="553.2" y="1538.2" text-anchor="middle">0.5</text>
<text class="tk" x="794.5" y="1538.2" text-anchor="middle">1.0</text>
<text class="tk" x="1036.5" y="1538.2" text-anchor="middle">1.5</text>
<text class="tk" x="1280.0" y="1538.2" text-anchor="middle">2.0</text>
<text class="tk" x="1521.9" y="1538.2" text-anchor="middle">2.5</text>
<text class="tk" x="1762.6" y="1538.2" text-anchor="middle">3.0</text>
<text class="tk" x="201.5" y="1423.8000000000002" text-anchor="end">0.0</text>
<text class="tk" x="201.5" y="1172.5" text-anchor="end">0.5</text>
<text class="tk" x="201.5" y="918.1" text-anchor="end">1.0</text>
<text class="tk" x="201.5" y="666.8" text-anchor="end">1.5</text>
<text class="tk" x="201.5" y="412.4" text-anchor="end">2.0</text>
<text class="tk" x="201.5" y="161.1" text-anchor="end">2.5</text>
<text class="lb" transform="translate(1094.2 1605.3) scale(0.955 1)" text-anchor="middle">Volume (L)</text>
<text class="lb" transform="translate(103.4 757.6) rotate(-90) scale(0.937 1)" text-anchor="middle">Flow (L/s)</text>
<rect x="722.9" y="55.5" width="1214.8000000000002" height="212.39999999999998" rx="8.5" ry="8.5" fill="#fff" fill-opacity="0.8" stroke="#ccc" stroke-opacity="0.8" stroke-width="3.2"/>
<use href="#s" x="782.3" y="89.3"/>
<line x1="736.7" y1="155" x2="825.5" y2="155" stroke="#ff7f0e" stroke-width="6.6" stroke-linecap="square"/>
<use href="#x" x="782.3" y="223.5"/>
<text class="lg" xml:space="preserve" x="859.9" y="107.5">ζ - 20.0 %, FEV1  = 0.82 L, FVC = 3.24 L</text>
<text class="lg" xml:space="preserve" x="859.9" y="173.8">ζ baseline = 4.93, FEV1  = 0.69 L, FVC = 3.17 L</text>
<text class="lg" xml:space="preserve" x="859.9" y="240.6">ζ + 20.0 %, FEV1  = 0.61 L, FVC = 3.08 L</text>
</g>
<g class="cap"><text transform="translate(906.4 1720.2) scale(0.98 1)" style="font-size:68.7px">(</text><text x="928.7" y="1727.5" style="font-size:78px">b</text><text transform="translate(971.8 1720.2) scale(0.98 1)" style="font-size:68.7px">)</text></g>
</svg></body></html>
